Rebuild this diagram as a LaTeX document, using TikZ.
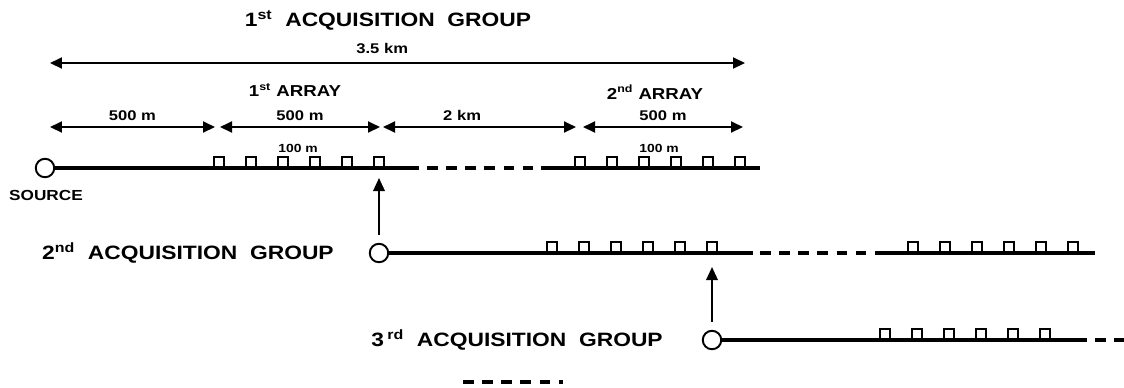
\documentclass[tikz,border=0pt]{standalone}
\usepackage{fontspec}
\setsansfont{Liberation Sans}[FakeStretch=1.18]
\usetikzlibrary{positioning,arrows.meta}
\tikzset{
  acq-cable/.style={line width=1.9pt, draw=black},
  acq-gap/.style={acq-cable, dash pattern=on 6pt off 4.9pt},
  acq-dim/.style={{Triangle[length=2.4mm,width=2.2mm]}-{Triangle[length=2.4mm,width=2.2mm]},
    line width=1.1pt},
  acq-feed/.style={-{Triangle[length=2.6mm,width=2.3mm]}, line width=1.1pt},
  acq-src/.style={circle, draw, line width=1.1pt, fill=white,
    minimum size=0.37cm, inner sep=0pt},
  acq-geo/.style={draw, line width=0.7pt, fill=white},
  acq-dimlabel/.style={font=\sffamily\bfseries\fontsize{8}{9}\selectfont, inner sep=1pt},
  acq-small/.style={font=\sffamily\bfseries\fontsize{6.7}{7}\selectfont, inner sep=1pt},
  acq-array/.style={font=\sffamily\bfseries\fontsize{9}{10}\selectfont, inner sep=1pt},
  acq-title/.style={font=\sffamily\bfseries\fontsize{11}{13}\selectfont, inner sep=1pt}
}

\begin{document}
\begin{tikzpicture}[x=0.02cm, y=-0.02cm]
\useasboundingbox (0,0) rectangle (1124,387);

% 1st acquisition group
\node[acq-title] (title1) at (388,20) {1\textsuperscript{st}~~ACQUISITION~~GROUP};
\node[acq-src] (src1) at (45,168) {};
\node[acq-dimlabel, font=\sffamily\bfseries\fontsize{8.3}{9}\selectfont] (srclabel) at (46,195) {SOURCE};
\foreach \gx in {219,251,...,379} \draw[acq-geo] (\gx-5,168) rectangle (\gx+5,157);
\foreach \gx in {580,612,...,740} \draw[acq-geo] (\gx-5,168) rectangle (\gx+5,157);
\coordinate (c1a) at (419,168);
\coordinate (c1b) at (427,168);
\coordinate (c1c) at (533,168);
\coordinate (c1d) at (541,168);
\coordinate (c1e) at (760,168);
\draw[acq-cable] (src1) -- (c1a);
\draw[acq-gap] (c1b) -- (c1c);
\draw[acq-cable] (c1d) -- (c1e);
\node[acq-small] (space1) at (298,148) {100 m};
\node[acq-small] (space2) at (659,148) {100 m};

% Spread dimensions
\coordinate (tot0) at (50,63);
\coordinate (tot1) at (745,63);
\draw[acq-dim] (tot0) -- node[acq-dimlabel, pos=0.478, above=4pt] (totlabel) {3.5 km} (tot1);
\node[acq-array] (array1) at (295,90) {1\textsuperscript{st}~ARRAY};
\node[acq-array] (array2) at (655,92) {2\textsuperscript{nd}~ARRAY};
\coordinate (d0) at (50,127);
\coordinate (d1) at (215,127);
\coordinate (d2) at (220,127);
\coordinate (d3) at (380,127);
\coordinate (d4) at (383,127);
\coordinate (d5) at (576,127);
\coordinate (d6) at (583,127);
\coordinate (d7) at (743,127);
\draw[acq-dim] (d0) -- node[acq-dimlabel, above=2pt] {500 m} (d1);
\draw[acq-dim] (d2) -- node[acq-dimlabel, above=2pt] {500 m} (d3);
\draw[acq-dim] (d4) -- node[acq-dimlabel, pos=0.41, above=2pt] {2 km} (d5);
\draw[acq-dim] (d6) -- node[acq-dimlabel, above=2pt] {500 m} (d7);

% 2nd acquisition group
\node[acq-src] (src2) at (379,253) {};
\node[acq-title, left=0.66cm of src2] (title2) {2\textsuperscript{nd}~~ACQUISITION~~GROUP};
\foreach \gx in {552,584,...,712} \draw[acq-geo] (\gx-5,253) rectangle (\gx+5,242);
\foreach \gx in {913,945,...,1073} \draw[acq-geo] (\gx-5,253) rectangle (\gx+5,242);
\coordinate (c2a) at (753,253);
\coordinate (c2b) at (760,253);
\coordinate (c2c) at (867,253);
\coordinate (c2d) at (875,253);
\coordinate (c2e) at (1095,253);
\draw[acq-cable] (src2) -- (c2a);
\draw[acq-gap] (c2b) -- (c2c);
\draw[acq-cable] (c2d) -- (c2e);
\coordinate (tap1) at (379,178);
\draw[acq-feed, shorten <=0.16cm] (src2) -- (tap1);

% 3rd acquisition group
\node[acq-src] (src3) at (712,340) {};
\node[acq-title, left=0.74cm of src3] (title3) {3\,\textsuperscript{rd}~~ACQUISITION~~GROUP};
\foreach \gx in {885,917,...,1045} \draw[acq-geo] (\gx-5,340) rectangle (\gx+5,329);
\coordinate (c3a) at (1087,340);
\coordinate (c3b) at (1095,340);
\coordinate (c3c) at (1124,340);
\draw[acq-cable] (src3) -- (c3a);
\draw[acq-gap] (c3b) -- (c3c);
\coordinate (tap2) at (712,267);
\draw[acq-feed, shorten <=0.16cm] (src3) -- (tap2);

% further groups
\coordinate (more0) at (463,382);
\coordinate (more1) at (563,382);
\draw[acq-gap] (more0) -- (more1);
\end{tikzpicture}
\end{document}
